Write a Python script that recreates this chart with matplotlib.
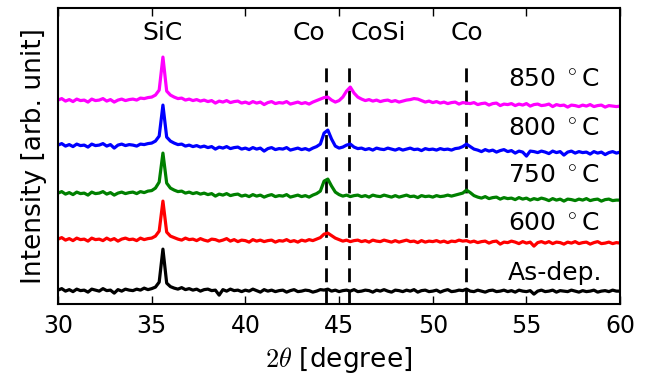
import numpy as np
import matplotlib
matplotlib.use("Agg")
import matplotlib.pyplot as plt

plt.rcParams["mathtext.fontset"] = "cm"
plt.rcParams["font.family"] = "DejaVu Sans"

# 2theta scan, 0.2 degree step
two_theta = np.linspace(30, 60, 151)

as_dep = [
    14, 15.5, 13, 14.5, 12.5, 15, 13.5, 14, 12, 15,
    14, 13, 15.5, 13.5, 14, 11, 14.5, 13, 15, 14,
    13.5, 15, 14, 16, 14.5, 15.5, 17, 22, 55, 21,
    17.5, 16, 15, 16.5, 14.5, 15.5, 14, 15, 13, 14.5,
    15, 13.5, 14, 9, 14.5, 13, 15, 13.5, 14, 12.5,
    14, 13, 15, 13.5, 12, 14.5, 13, 14, 12.5, 13.5,
    14, 12, 13.5, 14.5, 12.5, 13, 14, 13.5, 12, 13,
    14.5, 14, 15, 13, 14, 12.5, 13.5, 14, 13, 14.5,
    12.5, 13, 14, 13.5, 12, 14, 13, 14.5, 13, 12,
    14, 13.5, 12.5, 14, 13, 14.5, 12, 13.5, 14, 12.5,
    13, 14, 12, 13.5, 14.5, 12.5, 13, 14, 13.5, 15,
    13, 12.5, 14, 13, 12, 13.5, 14, 12.5, 13, 14,
    12.5, 13.5, 12, 14, 13, 12.5, 13.5, 10, 13, 14,
    12.5, 13, 14, 12, 13.5, 13, 12.5, 14, 13, 12,
    13.5, 12.5, 13, 14, 12, 13, 13.5, 12.5, 14, 13,
    13,
]

t600 = [
    65, 66.5, 64, 65.5, 63.5, 66, 64.5, 65, 63, 66,
    64.5, 65, 63.5, 66, 64, 65.5, 63, 65, 66, 64.5,
    65, 63.5, 66, 64.5, 65.5, 66, 68, 73, 103, 72,
    68, 66.5, 65, 64, 66, 64.5, 65, 63.5, 65.5, 64,
    63, 65, 64.5, 63, 64, 65.5, 63, 64.5, 62.5, 64,
    63.5, 62, 64.5, 63, 64, 62.5, 63.5, 64, 62, 63.5,
    63, 64.5, 62.5, 63.5, 62, 64, 63, 64.5, 63.5, 65,
    66.5, 70, 71, 68.5, 66, 64.5, 63, 64, 62.5, 63.5,
    64, 62.5, 63.5, 62, 64, 63, 62.5, 64, 63, 62,
    63.5, 62, 63, 64, 62.5, 63, 61.5, 63.5, 62, 63,
    62.5, 63.5, 62, 63, 61.5, 63, 62.5, 64, 63, 63.5,
    62, 63, 61.5, 62.5, 63, 61, 62.5, 63, 60, 62,
    61.5, 63, 62, 60.5, 62.5, 61, 62, 58, 61.5, 62.5,
    61, 62.5, 60.5, 62, 61.5, 60, 62, 61, 62.5, 60.5,
    61.5, 62, 60, 61.5, 62.5, 60.5, 61, 62, 60.5, 61.5,
    61,
]

t750 = [
    111, 112.5, 110, 111.5, 109.5, 112, 110.5, 111, 109, 112,
    110.5, 111, 112.5, 110, 111.5, 109, 111, 112, 110.5, 111.5,
    112, 110.5, 112.5, 111.5, 113, 113.5, 116, 122, 151, 121,
    116, 114, 112.5, 113, 111, 112, 110.5, 111.5, 110, 111,
    109.5, 110.5, 108, 110, 109, 110.5, 108.5, 109.5, 110, 108,
    109, 107.5, 109.5, 108, 109, 107, 108.5, 109.5, 107.5, 108.5,
    108, 109.5, 107, 108, 109, 107.5, 108.5, 107, 109, 110.5,
    113, 123, 125, 118, 112, 109.5, 108, 109, 107.5, 108.5,
    109, 107.5, 108.5, 107, 109, 108, 107.5, 109, 108, 107,
    108.5, 107, 108, 109, 107.5, 108, 106.5, 108.5, 107.5, 108,
    107, 108.5, 107.5, 108, 109, 108, 109, 110, 111, 114,
    111.5, 108.5, 107, 106, 107.5, 105.5, 106.5, 107, 105, 106.5,
    105.5, 106, 104.5, 106.5, 105, 106, 104, 105.5, 104.5, 106,
    105, 103.5, 105.5, 104, 105, 103, 105, 104.5, 103.5, 105,
    104, 105.5, 103.5, 104.5, 105, 103, 104.5, 105, 103.5, 104,
    104,
]

t800 = [
    159, 160.5, 158, 159.5, 157.5, 160, 158.5, 159, 157, 160,
    158.5, 159, 160.5, 158, 159.5, 156, 159, 160, 158.5, 159.5,
    159, 158, 160, 159.5, 160.5, 161, 163, 168, 199, 167,
    163, 161, 159.5, 160, 158, 159, 157.5, 158.5, 157, 158,
    156.5, 157.5, 155, 157, 156, 157.5, 155.5, 156.5, 157, 155,
    156, 154.5, 156.5, 155, 156, 153, 155.5, 156.5, 154.5, 155.5,
    155, 156.5, 154, 155, 156, 154.5, 155.5, 154, 156, 157.5,
    160, 171, 174, 165, 158, 156, 157, 159, 160, 157,
    155.5, 156, 154.5, 155.5, 154, 156, 155, 154.5, 156, 155,
    154, 155.5, 154, 155, 156, 154.5, 155, 153.5, 155.5, 154.5,
    155, 154, 155.5, 154.5, 155, 154, 155.5, 156, 157.5, 160,
    157.5, 155, 154, 152.5, 154.5, 153, 154, 152, 153.5, 154.5,
    152.5, 153.5, 151, 153, 152, 148, 153, 152.5, 151.5, 153,
    152, 150.5, 153, 151.5, 152.5, 149, 152, 153, 151, 152.5,
    151.5, 152, 150, 152.5, 151, 152, 149.5, 151.5, 152.5, 151,
    152,
]

t850 = [
    204, 205.5, 203, 204.5, 202.5, 205, 203.5, 204, 202, 205,
    203.5, 204, 205.5, 203, 204.5, 202, 204, 205, 203.5, 204.5,
    205, 204, 206, 205.5, 206.5, 207, 209, 214, 247, 213,
    209, 207, 205.5, 206, 204, 205, 203.5, 204.5, 203, 204,
    202.5, 203.5, 201, 203, 202, 203.5, 201.5, 202.5, 203, 201,
    202, 200.5, 202.5, 201, 202, 199.5, 201.5, 202.5, 200.5, 201.5,
    201, 202.5, 200, 201, 202, 200.5, 201.5, 200, 202, 203.5,
    205, 206.5, 207, 204, 202, 203.5, 207, 213, 217, 211,
    207, 205, 203.5, 204.5, 203, 204, 202.5, 203.5, 204, 202.5,
    203.5, 202, 203, 204, 204.5, 205.5, 205, 203.5, 202, 203,
    201.5, 202.5, 201, 202, 200.5, 201.5, 202, 200, 201.5, 201,
    200.5, 201.5, 199.5, 200.5, 201, 199, 200.5, 201, 198.5, 200,
    199.5, 200.5, 198.5, 200, 199, 200.5, 198, 199.5, 200, 198.5,
    199, 200, 197.5, 199.5, 198.5, 199, 197, 199, 198.5, 197.5,
    199, 198, 199.5, 197.5, 198.5, 199, 197, 198.5, 198, 197.5,
    198,
]

series = [as_dep, t600, t750, t800, t850]
colors = ["#000000", "#ff0000", "#008000", "#0000ff", "#ff00ff"]
labels = ["As-dep.", "600 $^\\circ$C", "750 $^\\circ$C", "800 $^\\circ$C", "850 $^\\circ$C"]
label_y = [31, 81, 129, 176, 225]

# reference peak positions
ref_lines = [44.3, 45.55, 51.8]
phase_names = ["SiC", "Co", "CoSi", "Co"]
phase_x = [35.6, 43.4, 47.1, 51.8]

fig = plt.figure(figsize=(6.48, 3.84), dpi=100)
ax = fig.add_axes([0.0895, 0.208, 0.8675, 0.771])

for xv in ref_lines:
    ax.plot([xv, xv], [0, 239], color="k", lw=2, linestyle=(0, (5, 3)), zorder=1)

for y, c in zip(series, colors):
    ax.plot(two_theta, y, color=c, lw=2.3, zorder=2)

for name, xv in zip(phase_names, phase_x):
    ax.text(xv, 271, name, ha="center", va="center", fontsize=18)

for lab, yv in zip(labels, label_y):
    ax.text(54, yv, lab, ha="left", va="center", fontsize=18)

ax.set_xlim(30, 60)
ax.set_ylim(0, 296)
ax.set_yticks([])
ax.set_xticks([30, 35, 40, 45, 50, 55, 60])
ax.tick_params(axis="x", direction="in", top=True, length=6, width=1, labelsize=17, pad=7)
for s in ax.spines.values():
    s.set_linewidth(1.5)

ax.set_xlabel(r"$2\theta$ [degree]", fontsize=19, labelpad=5)
ax.set_ylabel("Intensity [arb. unit]", fontsize=19, labelpad=8)

fig.savefig("out.png", dpi=100)
